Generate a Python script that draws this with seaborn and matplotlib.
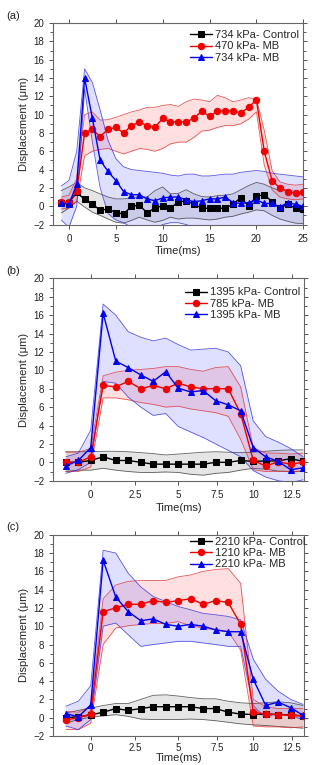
import matplotlib
matplotlib.use('Agg')
import matplotlib.pyplot as plt
import seaborn as sns
from matplotlib.ticker import MultipleLocator

# ---------------- panel (a) ----------------
time_a = [-0.83, 0, 0.83, 1.67, 2.5, 3.33, 4.17, 5, 5.83, 6.67, 7.5, 8.33, 9.17, 10, 10.83, 11.67,
          12.5, 13.33, 14.17, 15, 15.83, 16.67, 17.5, 18.33, 19.17, 20, 20.83, 21.67, 22.5, 23.33, 24.17, 25]

ctrl_a = [0.4, 0.4, 1.5, 0.75, 0.25, -0.45, -0.3, -0.7, -0.85, 0.0, 0.1, -0.7, -0.2, 0.05, -0.2, 0.45,
          0.6, 0.2, -0.2, -0.25, -0.25, -0.2, 0.2, 0.95, 0.0, 1.1, 1.25, 0.5, -0.25, 0.25, -0.25, -0.3]
ctrl_a_hi = [1.7, 2.1, 2.6, 2.0, 1.7, 1.35, 1.0, 0.8, 0.8, 0.9, 1.05, 1.0, 1.7, 2.1, 1.35, 1.4,
             1.8, 1.35, 1.05, 1.0, 1.15, 1.2, 1.35, 1.8, 2.25, 2.6, 2.4, 2.0, 1.7, 1.8, 1.6, 1.35]
ctrl_a_lo = [-0.75, -0.2, 0.55, -0.1, -0.65, -1.0, -1.4, -1.75, -1.85, -1.55, -1.2, -1.5, -1.75, -1.55, -1.2, -1.4,
             -1.3, -1.3, -1.4, -1.5, -1.4, -1.2, -1.1, -0.85, -0.65, -0.4, -0.5, -1.0, -1.4, -1.65, -1.85, -1.9]

red_a = [0.44, 0.44, 1.67, 8.0, 8.4, 7.6, 8.4, 8.6, 8.0, 8.8, 9.2, 8.8, 8.6, 9.6, 9.2, 9.2,
         9.2, 9.6, 10.4, 9.8, 10.4, 10.4, 10.4, 10.2, 10.8, 11.6, 6.0, 2.8, 2.0, 1.6, 1.4, 1.6]
red_a_hi = [1.0, 1.2, 3.0, 10.0, 10.3, 9.4, 9.45, 9.7, 10.0, 10.3, 10.5, 10.8, 10.8, 11.0, 11.1, 10.9,
            11.4, 11.7, 11.6, 11.4, 12.1, 11.85, 11.4, 11.6, 11.85, 11.7, 8.3, 3.9, 2.65, 2.4, 2.3, 2.4]
red_a_lo = [-0.3, -0.2, 0.5, 5.5, 6.0, 6.2, 6.3, 6.0, 5.7, 6.0, 6.3, 6.2, 6.0, 6.3, 6.8, 7.0,
            7.0, 7.5, 8.2, 8.3, 8.6, 8.8, 8.8, 9.0, 9.5, 10.3, 4.5, 1.8, 1.0, 0.8, 0.7, 0.8]

blue_a = [0.3, 0.2, 2.4, 14.0, 9.6, 5.0, 3.8, 2.8, 1.6, 1.25, 1.25, 0.8, 0.6, 0.9, 1.0, 1.0,
          0.7, 0.5, 0.6, 0.8, 0.8, 1.0, 0.4, 0.3, 0.4, 0.7, 0.3, 0.3, -0.1, 0.4, 0.2, 0.0]
blue_a_hi = [2.2, 2.8, 6.0, 15.0, 13.5, 10.5, 7.2, 5.2, 4.3, 4.0, 3.9, 3.8, 3.7, 3.6, 3.4, 3.3,
             3.5, 3.5, 3.3, 3.3, 3.4, 3.5, 3.5, 3.7, 3.8, 3.9, 3.8, 3.6, 3.5, 3.4, 3.3, 3.2]
blue_a_lo = [-1.5, -2.3, 0.0, 12.8, 7.0, 2.0, -0.8, -1.5, -1.8, -2.3, -2.6, -2.7, -2.5, -2.0, -1.8, -1.8,
             -2.0, -2.3, -2.5, -2.5, -2.6, -2.5, -2.5, -2.4, -2.3, -2.2, -2.3, -2.4, -2.4, -2.3, -2.3, -2.4]

# ---------------- panels (b) and (c) share the time grid ----------------
time_bc = [-1.43, -0.71, 0, 0.71, 1.43, 2.14, 2.86, 3.57, 4.29, 5.0,
           5.71, 6.43, 7.14, 7.86, 8.57, 9.29, 10.0, 10.71, 11.43, 12.14]
# tick labels sit where the original figure printed them
ticks_bc = [0, 2.53, 5.0, 7.2, 9.29, 11.49]
ticklabels_bc = ['0', '2.5', '5', '7.5', '10', '12.5']

ctrl_b = [0.0, 0.0, 0.2, 0.6, 0.2, 0.2, 0.0, -0.2, -0.2, -0.2, -0.2, -0.2, 0.0, 0.0, 0.2, 0.1, 0.15, 0.15, 0.4, 0.1]
ctrl_b_hi = [1.15, 1.15, 1.15, 1.2, 1.2, 1.15, 1.05, 0.95, 0.8, 0.9, 1.0, 1.1, 1.15, 1.1, 1.05, 1.1, 1.2, 1.3, 1.35, 1.35]
ctrl_b_lo = [-1.0, -0.85, -0.85, -0.65, -0.85, -1.0, -1.1, -1.1, -1.05, -1.1, -1.3, -1.4, -1.2, -1.1, -0.85, -0.65, -0.75, -0.95, -1.0, -1.0]

red_b = [0.0, 0.0, 0.6, 8.35, 8.2, 8.8, 8.0, 8.35, 8.0, 8.6, 8.2, 8.0, 8.0, 8.0, 5.3, 0.2, -0.4, 0.05, -0.2, 0.0]
red_b_hi = [1.1, 1.1, 1.5, 9.4, 9.8, 10.0, 10.1, 10.2, 10.4, 10.4, 10.1, 9.9, 10.3, 10.4, 8.2, 1.6, 1.0, 1.0, 0.9, 1.0]
red_b_lo = [-1.0, -1.0, -0.5, 7.0, 7.0, 6.8, 6.5, 6.3, 6.0, 6.1, 5.8, 5.6, 5.4, 5.0, 2.5, -0.8, -1.0, -1.0, -1.0, -1.0]

blue_b = [-0.4, 0.2, 1.6, 16.2, 11.0, 10.3, 9.5, 8.8, 9.85, 8.05, 7.65, 7.8, 6.7, 6.25, 5.6, 1.6, 0.6, 0.1, -0.8, -0.6]
blue_b_hi = [0.6, 1.0, 3.5, 17.2, 16.0, 14.2, 13.6, 13.2, 13.5, 12.8, 12.2, 12.3, 12.4, 12.0, 10.5, 4.5, 2.8, 2.2, 1.5, 0.6]
blue_b_lo = [-1.2, -0.8, 0.0, 8.8, 8.6, 7.1, 6.0, 5.1, 5.3, 3.9, 3.3, 2.7, 2.0, 1.3, 0.6, -0.9, -1.6, -2.0, -2.2, -1.9]

ctrl_c = [0.0, 0.1, 0.3, 0.6, 1.0, 0.8, 1.0, 1.2, 1.2, 1.2, 1.2, 1.0, 1.0, 0.6, 0.4, 0.35, 0.4, 0.35, 0.3, 0.2]
ctrl_c_hi = [0.5, 0.8, 1.07, 1.33, 1.55, 1.55, 2.0, 2.45, 2.5, 2.37, 2.2, 2.07, 2.07, 1.8, 1.63, 1.55, 1.63, 1.74, 1.63, 1.33]
ctrl_c_lo = [-0.6, -0.2, 0.07, 0.2, 0.33, 0.15, -0.15, -0.2, -0.2, -0.2, -0.15, -0.2, -0.33, -0.5, -0.67, -0.78, -0.85, -0.96, -1.04, -1.15]

red_c = [-0.25, 0.0, 0.4, 11.6, 12.0, 12.4, 12.4, 12.8, 12.6, 12.8, 13.0, 12.4, 12.8, 12.6, 10.2, 0.6, 0.4, 0.35, 0.25, 0.2]
red_c_hi = [0.7, 0.6, 1.2, 13.0, 14.5, 14.9, 15.0, 15.0, 15.0, 15.4, 15.6, 16.0, 16.2, 16.3, 14.7, 2.0, 1.2, 1.0, 1.0, 1.0]
red_c_lo = [-1.3, -1.3, -0.6, 8.0, 9.8, 10.05, 10.2, 10.3, 10.3, 10.5, 10.05, 9.8, 9.6, 9.4, 7.4, -0.9, -1.0, -1.0, -1.1, -1.0]

blue_c = [0.45, 0.1, 1.4, 17.2, 13.2, 11.6, 10.6, 10.8, 10.2, 10.0, 10.2, 10.0, 9.6, 9.4, 9.4, 4.2, 1.35, 1.7, 1.1, 0.25]
blue_c_hi = [1.25, 1.8, 3.5, 18.3, 18.0, 15.8, 14.3, 13.25, 12.7, 12.15, 11.8, 11.4, 11.25, 11.07, 10.7, 6.4, 4.2, 2.9, 2.0, 1.45]
blue_c_lo = [-0.9, -1.3, -0.2, 10.0, 10.35, 9.07, 7.8, 8.0, 8.17, 8.35, 8.35, 8.17, 8.0, 7.8, 7.8, 1.3, 0.0, 0.5, 0.2, -0.2]

labels_a = ['734 kPa- Control', '470 kPa- MB', '734 kPa- MB']
labels_b = ['1395 kPa- Control', '785 kPa- MB', '1395 kPa- MB']
labels_c = ['2210 kPa- Control', '1210 kPa- MB', '2210 kPa- MB']

sns.set_style('ticks')
plt.rcParams['font.family'] = ['Liberation Sans', 'DejaVu Sans']

colors = ['black', '#f00000', '#0000f0']
fills = ['#8a8a8a', '#ff7070', '#7070ff']
edges = ['#3a3a3a', '#e03030', '#3030e0']
markers = ['s', 'o', '^']
msizes = [4, 4.6, 5]


def draw_panel(ax, t, series, labels, xlim, leg_anchor, xpad=2):
    # shaded bands first
    for k, (m, lo, hi) in enumerate(series):
        ax.fill_between(t, lo, hi, color=fills[k], alpha=0.22, lw=0, zorder=1)
        ax.plot(t, lo, color=edges[k], lw=0.6, alpha=0.8, zorder=2)
        ax.plot(t, hi, color=edges[k], lw=0.6, alpha=0.8, zorder=2)
    for k, (m, lo, hi) in enumerate(series):
        sns.lineplot(x=t, y=m, ax=ax, color=colors[k], marker=markers[k], markersize=msizes[k],
                     markeredgecolor=colors[k], linewidth=1.0, label=labels[k], zorder=3 + k)
    ax.set_xlim(*xlim)
    ax.set_ylim(-2, 20)
    ax.yaxis.set_major_locator(MultipleLocator(2))
    ax.yaxis.set_minor_locator(MultipleLocator(1))
    ax.tick_params(which='both', direction='out', top=True, right=True, labeltop=False,
                   labelright=False, colors='#555555', labelcolor='#222222', labelsize=7, width=0.7)
    ax.tick_params(which='major', length=3)
    ax.tick_params(which='minor', length=2)
    for s in ax.spines.values():
        s.set_color('#666666')
        s.set_linewidth(0.8)
    ax.set_xlabel('Time(ms)', fontsize=8, labelpad=xpad)
    ax.set_ylabel('Displacement (\u03bcm)', fontsize=8, labelpad=3)
    ax.legend(loc='upper left', bbox_to_anchor=leg_anchor, frameon=False, fontsize=8,
              handlelength=2.0, handletextpad=0.25, labelspacing=0.12, borderpad=0, borderaxespad=0)


fig = plt.figure(figsize=(3.12, 7.65), dpi=100)
ax_a = fig.add_axes([0.1708, 0.7065, 0.8013, 0.2634])
ax_b = fig.add_axes([0.1708, 0.3716, 0.8035, 0.2646])
ax_c = fig.add_axes([0.1708, 0.0379, 0.8035, 0.2631])

draw_panel(ax_a, time_a,
           [(ctrl_a, ctrl_a_lo, ctrl_a_hi), (red_a, red_a_lo, red_a_hi), (blue_a, blue_a_lo, blue_a_hi)],
           labels_a, (-1.67, 25), (0.545, 0.965))
ax_a.set_xticks([0, 5, 10, 15, 20, 25])

draw_panel(ax_b, time_bc,
           [(ctrl_b, ctrl_b_lo, ctrl_b_hi), (red_b, red_b_lo, red_b_hi), (blue_b, blue_b_lo, blue_b_hi)],
           labels_b, (-2.14, 12.19), (0.525, 0.955))
ax_b.set_xticks(ticks_bc)
ax_b.set_xticklabels(ticklabels_bc)

draw_panel(ax_c, time_bc,
           [(ctrl_c, ctrl_c_lo, ctrl_c_hi), (red_c, red_c_lo, red_c_hi), (blue_c, blue_c_lo, blue_c_hi)],
           labels_c, (-2.14, 12.19), (0.545, 0.99), xpad=0)
ax_c.set_xticks(ticks_bc)
ax_c.set_xticklabels(ticklabels_bc)
ax_c.tick_params(axis='x', pad=2)

for lab, y in [('(a)', 1 - 16 / 765), ('(b)', 1 - 271 / 765), ('(c)', 1 - 527 / 765)]:
    fig.text(6 / 312, y, lab, fontsize=8, va='center', ha='left', color='#222222')

fig.savefig('out.png', dpi=100)
